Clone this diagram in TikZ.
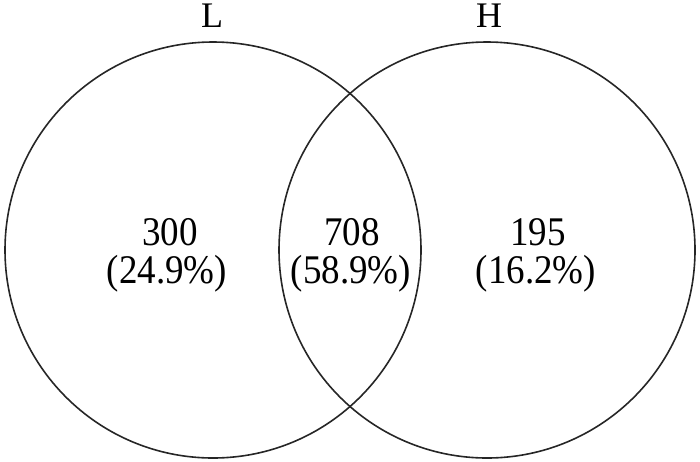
\documentclass[tikz,border=0pt]{standalone}
\usepackage{fontspec}
\usepackage{graphicx}
\setmainfont{Liberation Serif}
\newcommand{\tallnum}[1]{\scalebox{1}[1.1]{#1}}
\begin{document}
\begin{tikzpicture}[x=1pt,y=-1pt,
  setcircle/.style={draw=black!85, line width=1.6pt},
  lbl/.style={anchor=base, inner sep=0pt, font=\fontsize{36}{38}\selectfont},
  numlbl/.style={lbl, font=\fontsize{37}{38}\selectfont}]
\useasboundingbox (0,0) rectangle (700,461);
\node[setcircle, circle, minimum size=416pt, inner sep=0pt] (cL) at (213,250) {};
\node[setcircle, circle, minimum size=416pt, inner sep=0pt] (cH) at (487,250) {};
\node[lbl] (tL) at (212,27) {L};
\node[lbl] (tH) at (489,27) {H};
\node[numlbl] (a1) at (170,245) {\tallnum{300}};
\node[numlbl] (a2) at (167,283) {\tallnum{(24.9\%)}};
\node[numlbl] (b1) at (352,245) {\tallnum{708}};
\node[numlbl] (b2) at (351,283) {\tallnum{(58.9\%)}};
\node[numlbl] (c1) at (538,245) {\tallnum{195}};
\node[numlbl] (c2) at (536,283) {\tallnum{(16.2\%)}};
\end{tikzpicture}
\end{document}
